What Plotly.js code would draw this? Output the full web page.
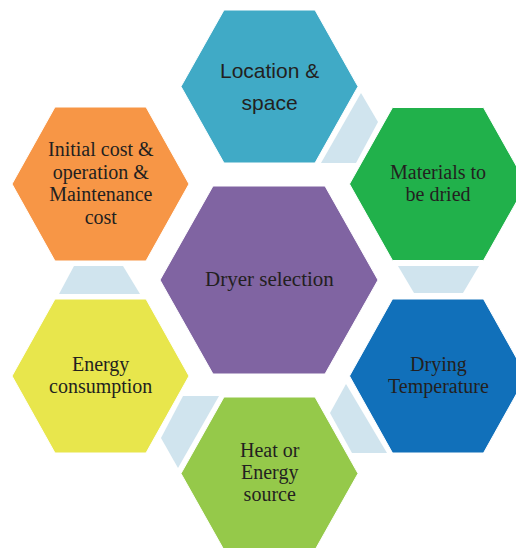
<!DOCTYPE html>
<html>
<head>
<meta charset="utf-8">
<script src="https://cdn.plot.ly/plotly-3.0.1.min.js"></script>
<style>html,body{margin:0;padding:0;background:#fff;}#chart{width:516px;height:548px;}</style>
</head>
<body>
<div id="chart"></div>
<script>
// ---- diagram content ----
const nodeNames = ["Location & space", "Initial cost & operation & Maintenance cost", "Materials to be dried",
                   "Dryer selection", "Energy consumption", "Drying Temperature", "Heat or Energy source"];
const nodeLines = [["Location &", "space"], ["Initial cost &", "operation &", "Maintenance", "cost"],
                   ["Materials to", "be dried"], ["Dryer selection"], ["Energy", "consumption"],
                   ["Drying", "Temperature"], ["Heat or", "Energy", "source"]];
const nodeColors = ["#40aac6", "#f79646", "#21b14b", "#8064a2", "#e8e64c", "#1170ba", "#95c94a"];
const connectorColor = "#d0e4ee";

// ---- geometry (pixel-like data coordinates) ----
const nodeCx = [269.5, 100.5, 438, 269, 100.5, 438, 269.5];
const nodeCy = [86.5, 184, 184, 280, 376, 376, 473.5];
const nodeHalfW = [88.5, 88.5, 88.5, 109, 88.5, 88.5, 88.5];
const nodeInset = [43, 43, 43, 53, 43, 43, 43];
const nodeHalfH = [76.5, 77, 76.5, 94, 77, 77, 76.5];
const nodeSans = [true, false, false, false, false, false, false];
const nodeFirstBase = [76.7, 159.3, 180, 286, 372.3, 372, 459];
const nodeLastBase = [109, 219.3, 200, 286, 392.3, 392, 499];

const connX = [[361, 378, 356, 321], [398, 479, 463, 414], [346, 330, 352, 387], [183, 219, 178, 161], [74, 123, 140, 59]];
const connY = [[93, 122, 163, 163], [266, 266, 293, 293], [384, 413, 453, 453], [396, 396, 468, 438], [266, 266, 294, 294]];

const fontSize = i => (nodeSans[i] || nodeLines[i].length === 1) ? 21 : 20;
const lineSpacing = i => {
  const n = nodeLines[i].length;
  if (n < 2) return 0;
  // keep lines from colliding: at least the font's line box
  return Math.max((nodeLastBase[i] - nodeFirstBase[i]) / (n - 1), 1.12 * fontSize(i));
};

const traces = [];
connX.forEach((xs, i) => {
  traces.push({type: "scatter", mode: "lines", x: xs.concat([xs[0]]), y: connY[i].concat([connY[i][0]]),
    fill: "toself", fillcolor: connectorColor, line: {width: 0, color: connectorColor},
    hoverinfo: "skip", showlegend: false});
});
nodeNames.forEach((name, i) => {
  const cx = nodeCx[i], cy = nodeCy[i], hw = nodeHalfW[i], ins = nodeInset[i], hh = nodeHalfH[i];
  const xs = [cx - hw, cx - hw + ins, cx + hw - ins, cx + hw, cx + hw - ins, cx - hw + ins, cx - hw];
  const ys = [cy, cy - hh, cy - hh, cy, cy + hh, cy + hh, cy];
  traces.push({type: "scatter", mode: "lines", x: xs, y: ys, name: name,
    fill: "toself", fillcolor: nodeColors[i], line: {width: 1, color: "#ffffff"},
    hoverinfo: "skip", showlegend: false});
});

const annotations = nodeLines.map((lines, i) => {
  const midBase = (nodeFirstBase[i] + nodeLastBase[i]) / 2;
  return {x: nodeCx[i], y: midBase - 0.34 * fontSize(i), xref: "x", yref: "y",
    text: lines.join("<br>"), showarrow: false, xanchor: "center", yanchor: "middle", align: "center",
    font: {family: nodeSans[i] ? "Liberation Sans, Arial, sans-serif" : "Liberation Serif, Times New Roman, serif",
           size: fontSize(i), color: "#231f20"}};
});

const layout = {
  width: 516, height: 548, margin: {l: 0, r: 0, t: 0, b: 0},
  paper_bgcolor: "#ffffff", plot_bgcolor: "#ffffff",
  xaxis: {range: [0, 516], visible: false, fixedrange: true},
  yaxis: {range: [548, 0], visible: false, fixedrange: true},
  annotations: annotations, showlegend: false
};

Plotly.newPlot("chart", traces, layout, {displayModeBar: false, staticPlot: true}).then(gd => {
  // set the line spacing of multi-line labels to match the diagram, keeping each block centred
  nodeLines.forEach((lines, i) => {
    const n = lines.length;
    if (n < 2) return;
    const sp = lineSpacing(i);
    const shift = (n - 1) * (1.3 * fontSize(i) - sp) / 2;
    const tspans = gd.querySelectorAll('g.annotation[data-index="' + i + '"] text.annotation-text tspan.line');
    tspans.forEach((t, k) => t.setAttribute("dy", (shift + k * sp).toFixed(2)));
  });
});
</script>
</body>
</html>
